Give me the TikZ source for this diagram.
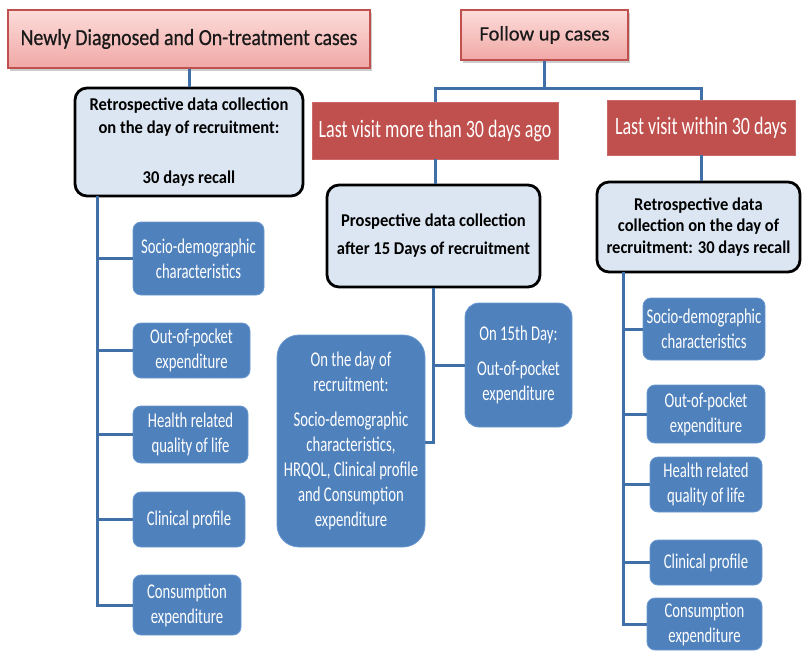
\documentclass[tikz,border=0pt]{standalone}
\usepackage{fontspec}
\setmainfont{Carlito}
\newfontfamily\fpinkA{Carlito}[FakeStretch=0.86,FakeBold=0.6]
\newfontfamily\fpinkB{Carlito}[FakeBold=0.6]
\newfontfamily\fred{Carlito}[FakeStretch=0.72]
\newfontfamily\fblue{Carlito}[FakeStretch=0.70]
\newfontfamily\fbold{Carlito}[FakeStretch=0.92]
\usetikzlibrary{shadows}
\definecolor{pinkborder}{HTML}{C0504D}
\definecolor{pinktop}{HTML}{FCDCDA}
\definecolor{pinkbot}{HTML}{F0A8A5}
\definecolor{redfill}{HTML}{C0504D}
\definecolor{bluefill}{HTML}{4F81BD}
\definecolor{blueedge}{HTML}{6A98D0}
\definecolor{lightfill}{HTML}{DCE6F2}
\definecolor{conncol}{HTML}{4170A8}
\tikzset{
  pinkbox/.style={draw=pinkborder, line width=1.2pt, top color=pinktop, bottom color=pinkbot,
    drop shadow={shadow xshift=2pt, shadow yshift=-3pt, opacity=0.4}, inner sep=0pt, text=black!90, align=center},
  redbox/.style={fill=redfill, draw=redfill!85!white, line width=0.8pt, text=white, inner sep=0pt,
    font=\fred\fontsize{25}{30}\selectfont, align=center},
  lightbox/.style={draw=black, line width=2.8pt, fill=lightfill, rounded corners=12pt, inner sep=0pt,
    align=center, text=black},
  bluebox/.style={fill=bluefill, draw=blueedge, line width=0.8pt, rounded corners=8pt, text=white,
    inner sep=0pt, align=center, font=\fblue\fontsize{21}{25}\selectfont},
  conn/.style={draw=conncol, line width=3pt}
}
\begin{document}
\begin{tikzpicture}[x=1pt,y=-1pt]
\useasboundingbox (0,0) rectangle (804,656);
% top level
\node[pinkbox, minimum width=362pt, minimum height=58pt, font=\fpinkA\fontsize{23}{27}\selectfont] (nd) at (189,39) {Newly Diagnosed and On-treatment cases};
\node[pinkbox, minimum width=167pt, minimum height=50pt, font=\fpinkB\fontsize{20.5}{24}\selectfont] (fu) at (544.5,35) {Follow up cases};
\node[redbox, minimum width=246pt, minimum height=57pt] (lv1) at (435,130.5) {Last visit more than 30 days ago};
\node[redbox, minimum width=188pt, minimum height=55pt] (lv2) at (701,127.5) {Last visit within 30 days};
% light boxes
\node[lightbox, minimum width=228pt, minimum height=108pt, font=\fbold\bfseries\fontsize{18}{23}\selectfont] (lb) at (189,142)
  {Retrospective data collection\\on the day of recruitment:\\[27pt]30 days recall};
\node[lightbox, minimum width=213pt, minimum height=102pt, font=\fbold\bfseries\fontsize{18}{28}\selectfont] (mp) at (433.5,236)
  {Prospective data collection\\after 15 Days of recruitment};
\node[lightbox, minimum width=203pt, minimum height=90pt, font=\fbold\bfseries\fontsize{18}{21.5}\selectfont] (rb) at (698.5,227)
  {Retrospective data\\collection on the day of\\recruitment: 30 days recall};
% left blue boxes
\node[bluebox, minimum width=131pt, minimum height=73pt] (s1) at (198.5,258.5) {Socio-demographic\\characteristics};
\node[bluebox, minimum width=117pt, minimum height=55pt] (o1) at (191.5,350.5) {Out-of-pocket\\expenditure};
\node[bluebox, minimum width=115pt, minimum height=57pt] (h1) at (190.5,434.5) {Health related\\quality of life};
\node[bluebox, minimum width=112pt, minimum height=55pt] (c1) at (189,519.5) {Clinical profile};
\node[bluebox, minimum width=108pt, minimum height=60pt] (e1) at (187,605) {Consumption\\expenditure};
% middle blue boxes
\node[bluebox, rounded corners=22pt, minimum width=148pt, minimum height=212pt] (big) at (351,441)
  {On the day of\\recruitment:\\[10pt]Socio-demographic\\characteristics,\\HRQOL, Clinical profile\\and Consumption\\expenditure};
\node[bluebox, rounded corners=14pt, minimum width=107pt, minimum height=124pt] (d15) at (518.5,365)
  {On 15th Day:\\[10pt]Out-of-pocket\\expenditure};
% right blue boxes
\node[bluebox, minimum width=122pt, minimum height=62pt] (r1) at (704,329) {Socio-demographic\\characteristics};
\node[bluebox, minimum width=118pt, minimum height=58pt] (r2) at (706,414) {Out-of-pocket\\expenditure};
\node[bluebox, minimum width=112pt, minimum height=55pt] (r3) at (706,484.5) {Health related\\quality of life};
\node[bluebox, minimum width=112pt, minimum height=45pt] (r4) at (706,562.5) {Clinical profile};
\node[bluebox, minimum width=115pt, minimum height=52pt] (r5) at (704.5,624) {Consumption\\expenditure};
% connectors
\draw[conn] (nd.south) -- (nd.south |- lb.north);
\coordinate (fj) at (544.5,88);
\draw[conn] (fu.south) -- (fj);
\draw[conn] (lv1.north) |- (fj) -| (lv2.north);
\draw[conn] (lv1.south) -- (lv1.south |- mp.north);
\draw[conn] (lv2.south) -- (lv2.south |- rb.north);
\coordinate (lt) at (97,196);
\draw[conn] (lt) |- (e1.west);
\foreach \n in {s1,o1,h1,c1} \draw[conn] (lt |- \n.west) -- (\n.west);
\coordinate (rt) at (623,272);
\draw[conn] (rt) |- (r5.west);
\foreach \n in {r1,r2,r3,r4} \draw[conn] (rt |- \n.west) -- (\n.west);
\coordinate (mb) at (433.5,442);
\draw[conn] (mp.south) -- (mb) -- (mb -| big.east);
\draw[conn] (mp.south |- d15.west) -- (d15.west);
\end{tikzpicture}
\end{document}
